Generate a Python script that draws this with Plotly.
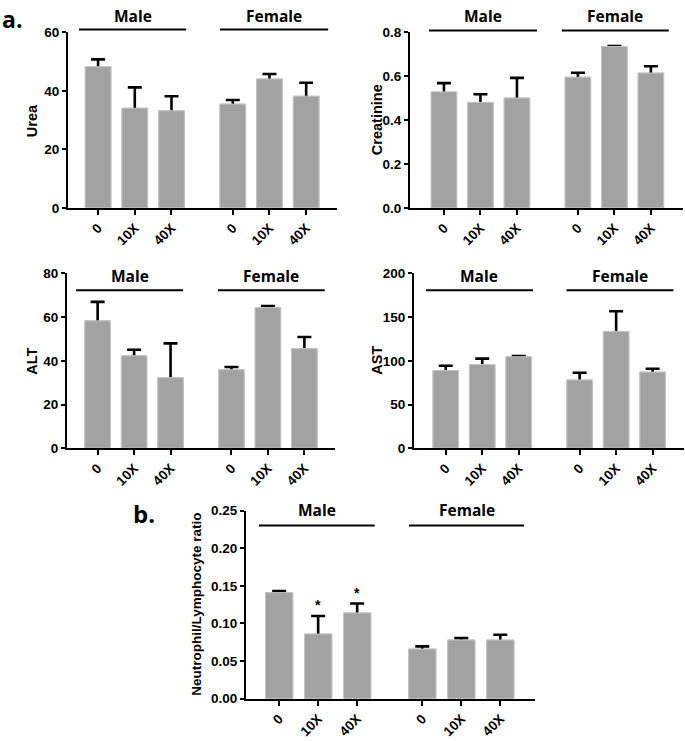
import plotly.graph_objects as go

# ---------------- data ----------------
groups = ["Male", "Female"]
doses = ["0", "10X", "40X", "0", "10X", "40X"]

urea = [48.3, 34.1, 33.2, 35.5, 44.1, 38.2]
urea_err = [2.5, 7.1, 5.0, 1.4, 1.7, 4.6]

creatinine = [0.529, 0.481, 0.501, 0.596, 0.736, 0.615]
creatinine_err = [0.040, 0.037, 0.092, 0.020, 0.002, 0.031]

alt = [58.3, 42.3, 32.3, 35.9, 64.4, 45.6]
alt_err = [8.7, 2.8, 15.7, 1.3, 0.7, 5.3]

ast = [89.0, 95.7, 104.7, 78.1, 133.5, 87.1]
ast_err = [5.3, 6.8, 0.9, 8.3, 23.3, 3.8]

nlr = [0.141, 0.086, 0.114, 0.066, 0.078, 0.078]
nlr_err = [0.002, 0.024, 0.0125, 0.0035, 0.0025, 0.007]
nlr_sig = ["", "*", "*", "", "", ""]

# ---------------- layout helpers ----------------
W, H = 685, 741
GAP = 1.67
xpos = [0, 1, 2, 2 + GAP, 3 + GAP, 4 + GAP]


def fx(px):
    return px / W


def fy(py):
    return 1 - py / H


BAR_FILL = "#a2a2a2"
BAR_EDGE = "#c4c4c4"
TICK_FONT = dict(family="Liberation Sans, Arial", size=13.5, color="black", weight="bold")
XTICK_FONT = dict(family="Liberation Sans, Arial", size=13.5, color="black", weight="bold")

panels = [
    dict(vals=urea, errs=urea_err, title="Urea", box=(68, 337, 26, 205), yr=[0, 60], dtick=20,
         fmt="d", xr=(-0.82, 6.51), title_x=32, label_y=9.5, line_y=23, tsize=14.5,
         spans=((-0.52, 2.40), (3.32, 6.27)), sig=None),
    dict(vals=creatinine, errs=creatinine_err, title="Creatinine", box=(410, 683, 26, 205), yr=[0, 0.8],
         dtick=0.2, fmt=".1f", xr=(-0.93, 6.55), title_x=377, label_y=9.5, line_y=24, tsize=14.5,
         spans=((-0.41, 2.55), (3.23, 6.16)), sig=None),
    dict(vals=alt, errs=alt_err, title="ALT", box=(67, 335, 272, 450.3), yr=[0, 80], dtick=20,
         fmt="d", xr=(-0.84, 6.51), title_x=32, label_y=275, line_y=289, tsize=14.5,
         spans=((-0.59, 2.34), (3.30, 6.23)), sig=None),
    dict(vals=ast, errs=ast_err, title="AST", box=(414, 684, 272, 450.3), yr=[0, 200], dtick=50,
         fmt="d", xr=(-0.87, 6.53), title_x=377, label_y=275, line_y=289, tsize=14.5,
         spans=((-0.54, 2.39), (3.31, 6.24)), sig=None),
    dict(vals=nlr, errs=nlr_err, title="Neutrophil/Lymphocyte ratio", box=(246, 535, 514, 706),
         yr=[0, 0.25], dtick=0.05, fmt=".2f", xr=(-0.85, 6.56), title_x=197, label_y=513.5,
         line_y=529.3, tsize=13.5, spans=((-0.52, 2.45), (3.33, 6.28)), sig=nlr_sig),
]

fig = go.Figure()
annotations = []
shapes = []

for i, p in enumerate(panels):
    n = "" if i == 0 else str(i + 1)
    xa, ya = "x" + n, "y" + n
    # bar carrying the error bars; an identical bar drawn on top hides their lower half
    fig.add_trace(go.Bar(
        x=xpos, y=p["vals"], xaxis=xa, yaxis=ya, width=0.7,
        marker=dict(color=BAR_FILL, line=dict(color=BAR_EDGE, width=1)),
        error_y=dict(type="data", array=p["errs"], symmetric=True, color="black",
                     thickness=2.6, width=7),
        hoverinfo="skip"))
    fig.add_trace(go.Bar(
        x=xpos, y=p["vals"], xaxis=xa, yaxis=ya, width=0.7,
        marker=dict(color=BAR_FILL, line=dict(color=BAR_EDGE, width=1)),
        hoverinfo="skip"))

    x0, x1, y0, y1 = p["box"]
    fig.layout["xaxis" + n] = dict(
        domain=[fx(x0), fx(x1)], range=list(p["xr"]), anchor=ya,
        tickmode="array", tickvals=xpos, ticktext=doses, tickangle=-45,
        ticks="outside", ticklen=5, tickwidth=2, tickcolor="black",
        showline=True, linewidth=2, linecolor="black", showgrid=False, zeroline=False,
        tickfont=XTICK_FONT, fixedrange=True)
    fig.layout["yaxis" + n] = dict(
        domain=[fy(y1), fy(y0)], range=p["yr"], anchor=xa, dtick=p["dtick"], tick0=0,
        tickformat=p["fmt"], ticks="outside", ticklen=4, tickwidth=2, tickcolor="black",
        showline=True, linewidth=2, linecolor="black", showgrid=False, zeroline=False,
        tickfont=TICK_FONT, fixedrange=True)

    annotations.append(dict(
        text="<b>%s</b>" % p["title"], xref="paper", yref="paper",
        x=fx(p["title_x"]), y=fy((y0 + y1) / 2), textangle=-90, showarrow=False,
        xanchor="center", yanchor="middle",
        font=dict(family="Liberation Sans, Arial", size=p["tsize"], color="black")))

    for g, (s0, s1) in zip(groups, p["spans"]):
        shapes.append(dict(type="line", xref=xa, yref="paper", x0=s0, x1=s1,
                           y0=fy(p["line_y"]), y1=fy(p["line_y"]),
                           line=dict(color="black", width=2)))
        annotations.append(dict(
            text="<b>%s</b>" % g, xref=xa, yref="paper", x=(s0 + s1) / 2,
            y=fy(p["label_y"]), showarrow=False, xanchor="center", yanchor="middle",
            font=dict(family="Open Sans", size=15.5, color="black")))

    if p["sig"]:
        for xv, v, e, s in zip(xpos, p["vals"], p["errs"], p["sig"]):
            if s:
                annotations.append(dict(
                    text="<b>%s</b>" % s, xref=xa, yref=ya, x=xv, y=v + e,
                    showarrow=False, xanchor="center", yanchor="bottom", yshift=1,
                    font=dict(family="Liberation Sans, Arial", size=14, color="black")))

annotations.append(dict(text="<b>a.</b>", xref="paper", yref="paper", x=fx(0), y=fy(0),
                        xanchor="left", yanchor="top", showarrow=False, yshift=6,
                        font=dict(family="Open Sans", size=23, color="black")))
annotations.append(dict(text="<b>b.</b>", xref="paper", yref="paper", x=fx(131), y=fy(517),
                        xanchor="left", yanchor="middle", showarrow=False,
                        font=dict(family="Open Sans", size=24, color="black")))

fig.update_layout(
    width=W, height=H, margin=dict(l=0, r=0, t=0, b=0),
    paper_bgcolor="white", plot_bgcolor="white",
    barmode="overlay", showlegend=False,
    annotations=annotations, shapes=shapes)

fig.write_html(
    "out.html", config={"displayModeBar": False},
    post_script="document.body.style.margin='0px';document.body.style.overflow='hidden';")
